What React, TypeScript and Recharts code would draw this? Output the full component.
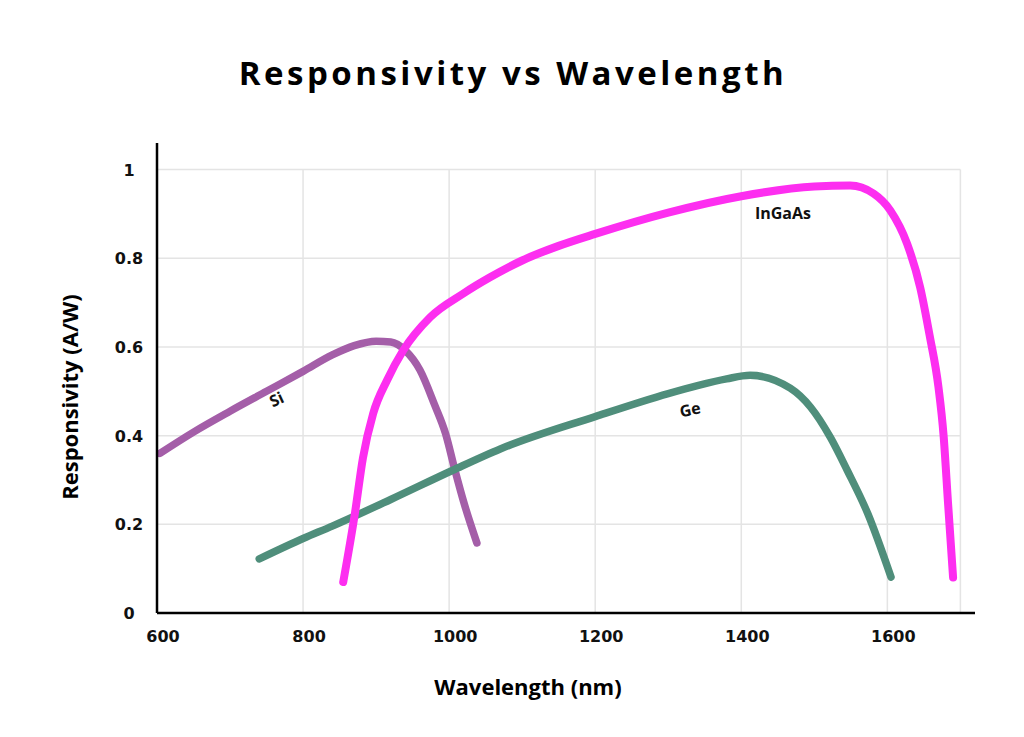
import React from "react";
import { LineChart, Line, XAxis, YAxis, ReferenceLine, ReferenceDot } from "recharts";

// wavelength ticks / grid (nm)
const wlTicks = [600, 800, 1000, 1200, 1400, 1600];
const respTicks = [0, 0.2, 0.4, 0.6, 0.8, 1];
const gridX = [800, 1000, 1200, 1400, 1600, 1700];
const gridY = [0.2, 0.4, 0.6, 0.8, 1];

// Si
const siWl = [604, 650, 700, 750, 800, 840, 870, 900, 920, 940, 960, 980, 995, 1008, 1020, 1038];
const siR = [0.36, 0.408, 0.455, 0.5, 0.545, 0.582, 0.603, 0.613, 0.611, 0.592, 0.548, 0.47, 0.405, 0.322, 0.25, 0.158];

// Ge
const geWl = [740, 800, 840, 920, 1005, 1070, 1200, 1300, 1340, 1380, 1412, 1467, 1495, 1522, 1545, 1573, 1605];
const geR = [0.122, 0.168, 0.196, 0.256, 0.322, 0.37, 0.443, 0.495, 0.513, 0.528, 0.536, 0.507, 0.464, 0.396, 0.322, 0.225, 0.081];

// InGaAs
const inWl = [855, 871, 882, 896, 915, 937, 974, 1019, 1056, 1100, 1150, 1200, 1300, 1400, 1500, 1549, 1581, 1604, 1627, 1645, 1658, 1670, 1677, 1683, 1690];
const inR = [0.07, 0.225, 0.35, 0.45, 0.525, 0.592, 0.667, 0.72, 0.757, 0.795, 0.828, 0.855, 0.903, 0.94, 0.962, 0.964, 0.946, 0.908, 0.833, 0.734, 0.625, 0.509, 0.4, 0.25, 0.08];

const toRows = (wl: number[], r: number[]) => wl.map((w, i) => ({ wl: w, r: r[i] }));
const siData = toRows(siWl, siR);
const geData = toRows(geWl, geR);
const inData = toRows(inWl, inR);

const tickFont = "'DejaVu Sans', sans-serif";
const labelFont = "'Open Sans', sans-serif";

const XTick = ({ x, y, payload }: any) => (
	<text x={x + 6} y={y} dy={21} textAnchor="middle" fontFamily={tickFont} fontWeight={700} fontSize={16} fill="#111">
		{payload.value}
	</text>
);

const YTick = ({ x, y, payload }: any) => (
	<text x={x - 20} y={y} dy={6} textAnchor="middle" fontFamily={tickFont} fontWeight={700} fontSize={16} fill="#111">
		{payload.value}
	</text>
);

const curveLabel = (text: string, angle: number) => (props: any) => {
	const { x, y } = props.viewBox;
	return (
		<text
			x={x}
			y={y}
			dy={5}
			textAnchor="middle"
			fontFamily={labelFont}
			fontWeight={700}
			fontSize={16}
			fill="#111"
			transform={`rotate(${angle} ${x} ${y})`}>
			{text}
		</text>
	);
};

const gridColor = "#e4e4e4";

const App = () => {
	return (
		<div style={{ position: "absolute", left: 0, top: 0, width: 1024, height: 737, background: "#fff" }}>
			<LineChart width={1024} height={737} margin={{ top: 143, right: 49, left: 97, bottom: 94 }}>
				<XAxis
					type="number"
					dataKey="wl"
					domain={[600, 1720]}
					ticks={wlTicks}
					allowDataOverflow
					height={30}
					tickLine={false}
					axisLine={{ stroke: "#000", strokeWidth: 2.5 }}
					tick={<XTick />}
				/>
				<YAxis
					type="number"
					dataKey="r"
					domain={[0, 1.06]}
					ticks={respTicks}
					allowDataOverflow
					width={60}
					tickLine={false}
					axisLine={{ stroke: "#000", strokeWidth: 2.5 }}
					tick={<YTick />}
				/>
				{gridY.map((v) => (
					<ReferenceLine key={"h" + v} segment={[{ x: 600, y: v }, { x: 1700, y: v }]} stroke={gridColor} strokeWidth={1.5} />
				))}
				{gridX.map((v) => (
					<ReferenceLine key={"v" + v} segment={[{ x: v, y: 0 }, { x: v, y: 1 }]} stroke={gridColor} strokeWidth={1.5} />
				))}
				<Line data={siData} dataKey="r" type="monotone" stroke="#a45ea8" strokeWidth={7.5} strokeLinecap="round" dot={false} isAnimationActive={false} />
				<Line data={geData} dataKey="r" type="monotone" stroke="#4f8e7b" strokeWidth={7.5} strokeLinecap="round" dot={false} isAnimationActive={false} />
				<Line data={inData} dataKey="r" type="monotone" stroke="#fd2ef0" strokeWidth={8} strokeLinecap="round" dot={false} isAnimationActive={false} />
				<ReferenceDot x={764} y={0.48} r={0} fill="none" stroke="none" label={curveLabel("Si", -25)} />
				<ReferenceDot x={1330} y={0.457} r={0} fill="none" stroke="none" label={curveLabel("Ge", -12)} />
				<ReferenceDot x={1457} y={0.9} r={0} fill="none" stroke="none" label={curveLabel("InGaAs", 0)} />
			</LineChart>
			<svg width={1024} height={737} style={{ position: "absolute", left: 0, top: 0, pointerEvents: "none" }}>
				<text x={513} y={85} textAnchor="middle" fontFamily={labelFont} fontWeight={700} fontSize={33} letterSpacing={3.5} fill="#000">
					Responsivity vs Wavelength
				</text>
				<text x={528} y={695} textAnchor="middle" fontFamily={labelFont} fontWeight={700} fontSize={22} fill="#000">
					Wavelength (nm)
				</text>
				<text x={78} y={397} textAnchor="middle" fontFamily={labelFont} fontWeight={700} fontSize={22} fill="#000" transform="rotate(-90 78 397)">
					Responsivity (A/W)
				</text>
			</svg>
		</div>
	);
};

export default App;
